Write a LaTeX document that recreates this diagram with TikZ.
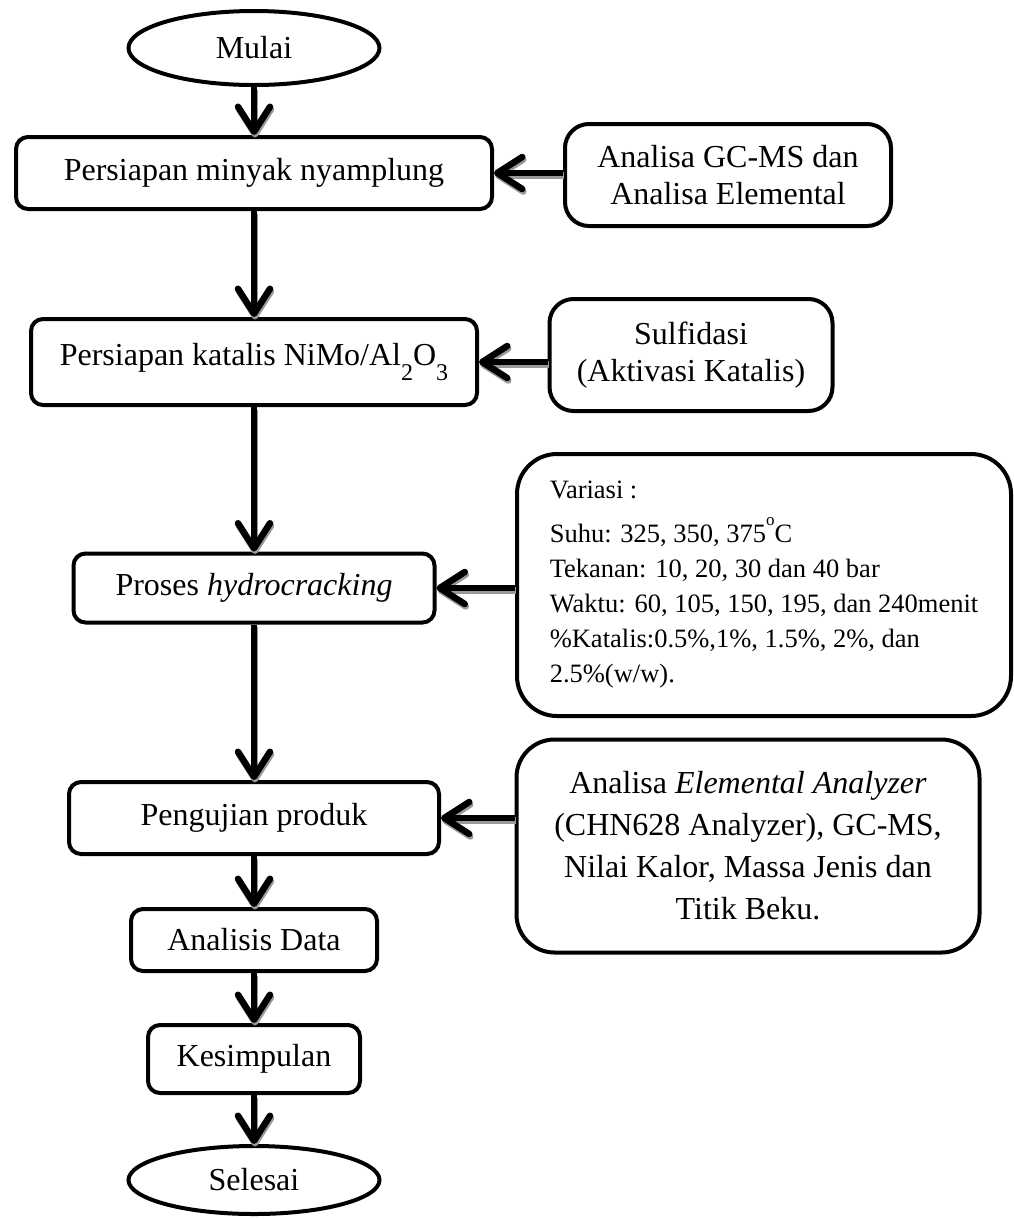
\documentclass[tikz,border=0pt]{standalone}
\usepackage{fontspec}
\setmainfont{Liberation Serif}
\usetikzlibrary{arrows.meta,shapes.geometric}
\begin{document}
\begin{tikzpicture}[x=1pt,y=-1pt,
  bigtext/.style={font=\fontsize{32}{37}\selectfont},
  terminal/.style={ellipse, draw, line width=4pt, inner sep=0pt, bigtext},
  stepbox/.style={rectangle, draw, line width=4pt, rounded corners=12pt, inner sep=0pt, bigtext},
  sidebox/.style={rectangle, draw, line width=4pt, rounded corners=24pt, inner sep=0pt, align=center, bigtext},
  flow/.style={line width=6.5pt, -{Straight Barb[length=25pt,width=32pt,round]}},
  flowshadow/.style={flow, draw=black!40, transform canvas={shift={(1pt,-2.5pt)}}},
]
\useasboundingbox (0,0) rectangle (1014,1219);

% main column
\node[terminal, minimum width=251pt, minimum height=74pt] (start) at (254,48) {Mulai};
\node[stepbox, minimum width=476pt, minimum height=72pt] (oil) at (254,173) {Persiapan minyak nyamplung};
\node[stepbox, minimum width=446pt, minimum height=86pt] (cat) at (254,362)
  {Persiapan katalis NiMo/Al\raisebox{-15pt}{\fontsize{24}{24}\selectfont 2}O\raisebox{-15pt}{\fontsize{24}{24}\selectfont 3}};
\node[stepbox, minimum width=361pt, minimum height=69pt] (proc) at (254,588) {Proses \textit{hydrocracking}};
\node[stepbox, minimum width=370pt, minimum height=72pt] (test) at (254,818) {Pengujian produk};
\node[stepbox, minimum width=246pt, minimum height=62pt] (data) at (254,940) {Analisis Data};
\node[stepbox, minimum width=212pt, minimum height=68pt] (concl) at (254,1059) {Kesimpulan};
\node[terminal, minimum width=251pt, minimum height=68pt] (finish) at (254,1180) {Selesai};

% side inputs
\node[sidebox, minimum width=326pt, minimum height=102pt] (gcms) at (728,175)
  {Analisa GC-MS dan\\Analisa Elemental};
\node[sidebox, minimum width=283pt, minimum height=112pt] (sulf) at (691,355)
  {Sulfidasi\\(Aktivasi Katalis)};
\node[sidebox, rounded corners=40pt, minimum width=494pt, minimum height=262pt, align=left,
      font=\fontsize{26.5}{35}\selectfont] (var) at (764,585)
  {Variasi :\\[9pt]
   Suhu: 325, 350, 375\raisebox{17pt}{\fontsize{17}{17}\selectfont o}C\\
   Tekanan: 10, 20, 30 dan 40 bar\\
   Waktu: 60, 105, 150, 195, dan 240menit\\
   \%Katalis:0.5\%,1\%, 1.5\%, 2\%, dan\\
   2.5\%(w/w).};
\node[sidebox, rounded corners=38pt, minimum width=463pt, minimum height=213pt,
      font=\fontsize{32}{42}\selectfont] (anl) at (748,846)
  {Analisa \textit{Elemental Analyzer}\\(CHN628 Analyzer), GC-MS,\\Nilai Kalor, Massa Jenis dan\\Titik Beku.};

% connectors
\foreach \a/\b in {start/oil, oil/cat, cat/proc, proc/test, test/data, data/concl, concl/finish} {
  \draw[flowshadow] (\a) -- (\b);
  \draw[flow] (\a) -- (\b);
}
\foreach \a/\b in {gcms/oil, sulf/cat, var/proc, anl/test} {
  \draw[flowshadow] (\a.west |- \b.east) -- (\b.east);
  \draw[flow] (\a.west |- \b.east) -- (\b.east);
}
\end{tikzpicture}
\end{document}
